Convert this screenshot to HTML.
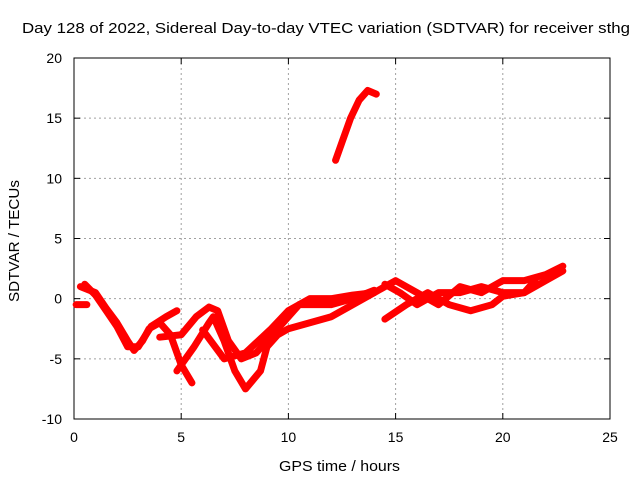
<!DOCTYPE html>
<html><head><meta charset="utf-8"><style>
body{margin:0;background:#fff}
svg{display:block;font-family:"Liberation Sans",sans-serif}
</style></head><body>
<svg id="c" width="640" height="480"></svg>
<script>
const xTicks=[0,5,10,15,20,25];
const yTicks=[-10,-5,0,5,10,15,20];
const trackA_x=[0.3,1,1.5,2,2.5,2.8,3.2,3.5,4,4.5,5,5.5];
const trackA_y=[1,0.5,-0.8,-2,-3.5,-4.3,-3.5,-2.5,-2,-3,-5.5,-7];
const trackB_x=[0.5,1,1.5,2,2.5,3,3.6,4.3,4.8];
const trackB_y=[1.2,0.3,-1,-2.3,-4,-4,-2.3,-1.5,-1];
const trackC_x=[4,5,5.7,6.3,6.7,7.2,7.8,8.5,9.5,10.5,12,13,14];
const trackC_y=[-3.2,-3,-1.5,-0.7,-1,-3.5,-5,-4.5,-2.5,-0.5,-0.5,0,0.7];
const trackD_x=[4.8,5.6,6.3,6.5,7,7.5,8,8.7,9,9.5,10,11,12,13,14];
const trackD_y=[-6,-4,-2,-1.5,-3.5,-6,-7.5,-6,-4,-3,-2.5,-2,-1.5,-0.5,0.5];
const trackE_x=[6,7,8,9.2,10,11,12,13,14,15,16,17,18,19,20,21,22,22.8];
const trackE_y=[-2.6,-5,-4.5,-2.5,-1,0,0,0.3,0.5,1.5,0.5,-0.5,1,0.5,1.5,1.5,2,2.7];
const trackF_x=[14.5,15.5,16.5,17.5,18.5,19.5,20,21,22,22.8];
const trackF_y=[-1.7,-0.5,0.5,-0.5,-1,-0.5,0.2,0.5,1.5,2.3];
const trackG_x=[14.5,15.2,16,17,18,19,20,21,21.5];
const trackG_y=[1.2,0.5,-0.5,0.5,0.5,1,0.5,0.5,1.5];
const trackH_x=[12.2,12.5,12.9,13.3,13.7,14.1];
const trackH_y=[11.5,13,15,16.5,17.3,17];
const trackI_x=[0.1,0.6];
const trackI_y=[-0.5,-0.5];

const L=74,R=610,T=58,B=419;
const sx=v=>L+(v-0)/25*(R-L);
const sy=v=>B-(v+10)/30*(B-T);
const svg=document.getElementById('c');
const NS='http://www.w3.org/2000/svg';
function mk(t,a,p){const e=document.createElementNS(NS,t);for(const k in a)e.setAttribute(k,a[k]);(p||svg).appendChild(e);return e;}

xTicks.forEach(v=>{
  if(v>0&&v<25){const g=mk('line',{x1:sx(v),x2:sx(v),y1:T,y2:B,stroke:'#a0a0a0','stroke-dasharray':'2,3'});
  
  }
  const t=mk('line',{x1:sx(v),x2:sx(v),y1:B,y2:B-6,stroke:'#000'});
  
  
  const t2=mk('line',{x1:sx(v),x2:sx(v),y1:T,y2:T+6,stroke:'#000'});
  
  
  const l=mk('text',{x:sx(v),y:B+23,'text-anchor':'middle','font-size':'14'});l.textContent=v;
  
  
});
yTicks.forEach(v=>{
  if(v>-10&&v<20){const g=mk('line',{x1:L,x2:R,y1:sy(v),y2:sy(v),stroke:'#a0a0a0','stroke-dasharray':'2,3'});
  
  }
  const t=mk('line',{x1:L,x2:L+6,y1:sy(v),y2:sy(v),stroke:'#000'});
  
  
  const t2=mk('line',{x1:R,x2:R-6,y1:sy(v),y2:sy(v),stroke:'#000'});
  
  
  const l=mk('text',{x:L-12,y:sy(v)+5,'text-anchor':'end','font-size':'14'});l.textContent=v;
  
  
});
const fr=mk('rect',{x:L,y:T,width:R-L,height:B-T,fill:'none',stroke:'#000'});



const tracks=[[trackA_x,trackA_y],[trackB_x,trackB_y],[trackC_x,trackC_y],[trackD_x,trackD_y],[trackE_x,trackE_y],[trackF_x,trackF_y],[trackG_x,trackG_y],[trackH_x,trackH_y],[trackI_x,trackI_y]];
tracks.forEach(([xs,ys])=>{
  const pts=xs.map((x,i)=>sx(x)+','+sy(ys[i])).join(' ');
  const p=mk('polyline',{points:pts,fill:'none',stroke:'#ff0000','stroke-width':'7','stroke-linejoin':'round','stroke-linecap':'round'});
  
  
});

const ti=mk('text',{x:22,y:33,'font-size':'15',textLength:'608',lengthAdjust:'spacingAndGlyphs'});
ti.textContent='Day 128 of 2022, Sidereal Day-to-day VTEC variation (SDTVAR) for receiver sthg';


const xt=mk('text',{x:279,y:471,'font-size':'15',textLength:'121',lengthAdjust:'spacingAndGlyphs'});
xt.textContent='GPS time / hours';


const yt=mk('text',{x:0,y:0,'font-size':'15',textLength:'122',lengthAdjust:'spacingAndGlyphs',transform:'translate(19,302) rotate(-90)'});
yt.textContent='SDTVAR / TECUs';


</script>
</body></html>
